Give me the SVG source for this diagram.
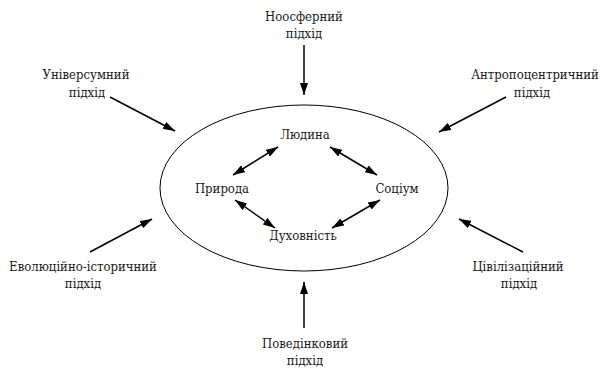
<svg xmlns="http://www.w3.org/2000/svg" width="606" height="369" viewBox="0 0 606 369">
<style>
text{font-family:'DejaVu Serif',serif;font-stretch:condensed;font-size:13px;fill:#1a1a1a;text-anchor:middle}
.c{stroke:#000;stroke-width:1.5;fill:none}
</style>
<defs>
<marker id="ah" viewBox="0 0 12 8" refX="12" refY="4" markerWidth="12" markerHeight="8" markerUnits="userSpaceOnUse" orient="auto-start-reverse">
<path d="M0,0 L12,4 L0,8 Z" fill="#000"/>
</marker>
</defs>
<rect width="606" height="369" fill="#fff"/>
<g id="circle"><ellipse cx="304" cy="188" rx="144" ry="83" fill="none" stroke="#000" stroke-width="1"/></g>
<g id="n-noosfernyi"><text x="304" y="21">Ноосферний</text><text x="304" y="38">підхід</text></g>
<g id="n-universumnyi"><text x="86" y="79">Універсумний</text><text x="87" y="97">підхід</text></g>
<g id="n-antropo"><text x="535" y="79">Антропоцентричний</text><text x="532" y="97">підхід</text></g>
<g id="n-evol"><text x="83" y="271">Еволюційно-історичний</text><text x="83" y="288">підхід</text></g>
<g id="n-tsyvil"><text x="518" y="271">Цівілізаційний</text><text x="519" y="288">підхід</text></g>
<g id="n-povedin"><text x="305" y="348">Поведінковий</text><text x="305" y="365">підхід</text></g>
<g id="n-lyudyna"><text x="305" y="139">Людина</text></g>
<g id="n-pryroda"><text x="222" y="193">Природа</text></g>
<g id="n-sotsium"><text x="397" y="193">Соціум</text></g>
<g id="n-dukhovnist"><text x="303" y="240">Духовність</text></g>
<g id="connectors" class="c">
<line x1="304" y1="45" x2="304" y2="95" marker-end="url(#ah)"/>
<line x1="110" y1="97" x2="175" y2="131" marker-end="url(#ah)"/>
<line x1="506" y1="97" x2="439" y2="132" marker-end="url(#ah)"/>
<line x1="90" y1="252" x2="152" y2="219" marker-end="url(#ah)"/>
<line x1="523" y1="252" x2="459" y2="219" marker-end="url(#ah)"/>
<line x1="304" y1="328" x2="304" y2="282" marker-end="url(#ah)"/>
<line x1="278" y1="147" x2="233" y2="175" marker-start="url(#ah)" marker-end="url(#ah)"/>
<line x1="330" y1="147" x2="377" y2="175" marker-start="url(#ah)" marker-end="url(#ah)"/>
<line x1="235" y1="200" x2="275" y2="228" marker-start="url(#ah)" marker-end="url(#ah)"/>
<line x1="380" y1="200" x2="332" y2="228" marker-start="url(#ah)" marker-end="url(#ah)"/>
</g>
</svg>
